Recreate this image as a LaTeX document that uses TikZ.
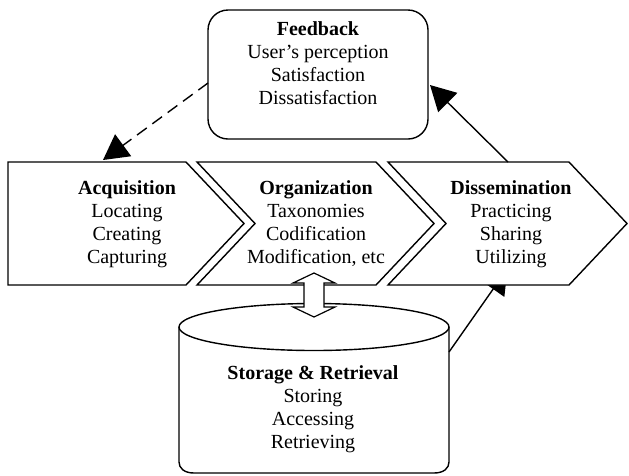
\documentclass[tikz,border=0pt]{standalone}
\usepackage{fontspec}
\setmainfont{Liberation Serif}
\usetikzlibrary{arrows.meta}
\begin{document}
\begin{tikzpicture}[x=1pt,y=-1pt,
  outline/.style={draw=black, line width=1.4pt, fill=white, line join=miter},
  txt/.style={align=center, inner sep=0pt, font=\fontsize{20}{23}\selectfont},
  conn/.style={line width=1.4pt, -{Triangle[length=25pt,width=27pt]}},
  dblarrow/.style={draw=black, line width=1.2pt, fill=white, line join=miter}
]
\useasboundingbox (0,0) rectangle (629,475);

% storage cylinder (bottom runs to the page edge)
\draw[outline] (179,327) -- (179,462) .. controls (179,468) and (184,473) .. (194,473)
  -- (434,473) .. controls (444,473) and (449,468) .. (449,462) -- (449,327);
\draw[outline] (314,327) ellipse [x radius=135, y radius=23.5];
\coordinate (cylE) at (449,352);

% connector from storage up to dissemination (tip tucked under the chevron)
\coordinate (disIn) at (507.5,268.6);
\draw[conn] (cylE) -- (disIn);

% process chevrons
\draw[outline] (8,162) -- (186,162) -- (244,223.5) -- (186,285) -- (8,285) -- cycle;
\draw[outline] (197,162) -- (376,162) -- (434,223.5) -- (376,285) -- (197,285) -- (255,223.5) -- cycle;
\draw[outline] (388,162) -- (569,162) -- (627,223.5) -- (569,285) -- (388,285) -- (446,223.5) -- cycle;
\coordinate (acqTop) at (103,160);
\coordinate (disTop) at (508,162);

% feedback box
\node[outline, rounded corners=20pt, minimum width=220pt, minimum height=129pt] (fb) at (318,74.5) {};
\coordinate (fbW) at (208,83);
\coordinate (fbE) at (430,85);

% feedback loop connectors
\draw[conn] (disTop) -- (fbE);
\draw[conn, dash pattern=on 12pt off 7pt] (fbW) -- (acqTop);

% two-way arrow between organization and storage
\draw[dblarrow] (314,273) -- (335,283) -- (324,283) -- (324,307) -- (335,307) -- (314,317)
  -- (293,307) -- (304,307) -- (304,283) -- (293,283) -- cycle;

% texts
\node[txt] (fbt) at (318,63) {\textbf{Feedback}\\User’s perception\\Satisfaction\\Dissatisfaction};
\node[txt] (acq) at (127,224) {\textbf{Acquisition}\\Locating\\Creating\\Capturing};
\node[txt] (org) at (316,224) {\textbf{Organization}\\Taxonomies\\Codification\\Modification, etc};
\node[txt] (dis) at (511,224) {\textbf{Dissemination}\\Practicing\\Sharing\\Utilizing};
\node[txt] (sto) at (313,409) {\textbf{Storage \& Retrieval}\\Storing\\Accessing\\Retrieving};
\end{tikzpicture}
\end{document}
